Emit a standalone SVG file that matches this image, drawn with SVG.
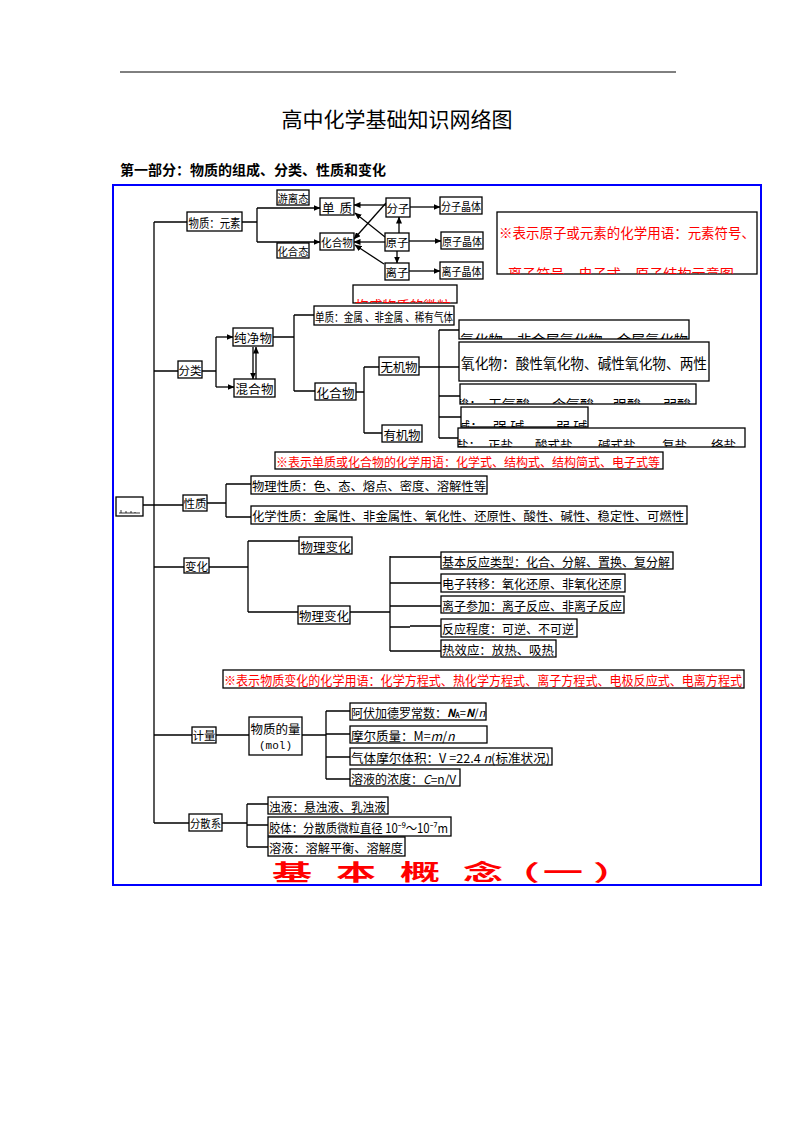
<svg xmlns="http://www.w3.org/2000/svg" width="794" height="1123" viewBox="0 0 794 1123">
<style>
.b{fill:#fff;stroke:#000;stroke-width:1.3}
.t{font-family:"Noto Sans CJK SC","Noto Sans",sans-serif;font-size:12.5px;fill:#000}
.m{text-anchor:middle;dominant-baseline:central}
.l{dominant-baseline:central}
.r{fill:#f00}
.c path{stroke:#000;stroke-width:1.3;fill:none}
.ar{marker-end:url(#ar)}
</style>
<defs>
<marker id="ar" markerWidth="7" markerHeight="6" refX="6.5" refY="3" orient="auto" markerUnits="userSpaceOnUse"><path d="M0,0 L7,3 L0,6z" fill="#000"/></marker>
<clipPath id="cwl"><rect x="353" y="285" width="104" height="18"/></clipPath>
<clipPath id="cn1"><rect x="497" y="212" width="260" height="62"/></clipPath>
<clipPath id="cA"><rect x="459" y="320" width="230" height="19"/></clipPath>
<clipPath id="cB"><rect x="459" y="342" width="250" height="39"/></clipPath>
<clipPath id="cC"><rect x="460" y="384" width="236" height="20"/></clipPath>
<clipPath id="cD"><rect x="461" y="407" width="127" height="20"/></clipPath>
<clipPath id="cE"><rect x="458" y="428" width="287" height="19"/></clipPath>
</defs>
<rect width="794" height="1123" fill="#fff"/>
<path d="M120,72 H676" stroke="#000" stroke-width="1"/>
<text class="t" x="397" y="127" text-anchor="middle" style="font-size:21px">高中化学基础知识网络图</text>
<text class="t" x="120" y="175" style="font-size:14px;font-weight:bold" textLength="266">第一部分：物质的组成、分类、性质和变化</text>
<rect x="113" y="185" width="648" height="700" fill="none" stroke="#00f" stroke-width="2"/>

<g id="connectors" class="c">
<path d="M154,222 V823"/>
<path d="M154,222 H187"/>
<path d="M242,222 H257 M257,208 V242"/>
<path class="ar" d="M257,208 H320"/>
<path class="ar" d="M257,242 H320"/>
<path class="ar" d="M386,205 H354"/>
<path class="ar" d="M399,233 V217"/>
<path class="ar" d="M397,251 V263"/>
<path class="ar" d="M385,242 H354"/>
<path class="ar" d="M385,237 L355,213"/>
<path class="ar" d="M386,203 L354,239"/>
<path class="ar" d="M384,264 L355,245"/>
<path class="ar" d="M410,207 H440"/>
<path class="ar" d="M409,241 H441"/>
<path class="ar" d="M409,271 H440"/>
<path d="M154,371 H178 M202,371 H216 M216,337 V387"/>
<path class="ar" d="M216,337 H233"/>
<path class="ar" d="M216,387 H234"/>
<path class="ar" d="M253,347 V379"/>
<path class="ar" d="M256,379 V347"/>
<path d="M273,337 H294 M294,315 V391 M294,315 H314 M294,391 H315"/>
<path d="M356,392 H364 M364,367 V433 M364,367 H379 M364,433 H382"/>
<path d="M419,367 H459 M439,330 V438 M439,330 H459 M439,396 H460 M439,417 H461 M439,438 H458"/>
<path d="M143,505 H183 M207,503 H226 M226,484 V517 M226,484 H251 M226,517 H251"/>
<path d="M154,567 H184 M209,567 H248 M248,541 V612 M248,541 H299 M248,612 H298"/>
<path d="M350,612 H390 M390,556 V651 M390,557 H441 M390,583 H441 M390,606 H441 M390,627 H410 M410,626 H441 M390,651 H441"/>
<path d="M154,735 H192 M216,735 H249 M302,735 H326 M326,711 V779 M326,711 H350 M326,734 H350 M326,757 H350 M326,779 H350"/>
<path d="M154,823 H189 M222,823 H247 M247,804 V847 M247,804 H268 M247,825 H268 M247,847 H268"/>
</g>

<g id="n-wuzhi"><rect class="b" x="187" y="212" width="55" height="19"/><text class="t m" x="214.5" y="222" style="font-size:12px" textLength="52" lengthAdjust="spacingAndGlyphs">物质：元素</text></g>
<g id="n-youli"><rect class="b" x="277" y="190" width="32" height="15"/><text class="t m" x="293" y="198" style="font-size:11px" textLength="31" lengthAdjust="spacingAndGlyphs">游离态</text></g>
<g id="n-huahetai"><rect class="b" x="277" y="243" width="32" height="15"/><text class="t m" x="293" y="251" style="font-size:11px" textLength="31" lengthAdjust="spacingAndGlyphs">化合态</text></g>
<g id="n-danzhi"><rect class="b" x="320" y="198" width="34" height="17"/><text class="t m" x="337" y="207" style="font-size:12.5px" textLength="30">单 质</text></g>
<g id="n-huahewu1"><rect class="b" x="320" y="233" width="34" height="17"/><text class="t m" x="337" y="242" style="font-size:11.5px" textLength="32" lengthAdjust="spacingAndGlyphs">化合物</text></g>
<g id="n-fenzi"><rect class="b" x="386" y="198" width="24" height="19"/><text class="t m" x="398" y="208" style="font-size:11.5px">分子</text></g>
<g id="n-yuanzi"><rect class="b" x="385" y="233" width="24" height="18"/><text class="t m" x="397" y="242" style="font-size:11.5px">原子</text></g>
<g id="n-lizi"><rect class="b" x="385" y="263" width="24" height="17"/><text class="t m" x="397" y="272" style="font-size:11.5px">离子</text></g>
<g id="n-fzjt"><rect class="b" x="440" y="197" width="42" height="17"/><text class="t m" x="461" y="206" style="font-size:11px" textLength="40" lengthAdjust="spacingAndGlyphs">分子晶体</text></g>
<g id="n-yzjt"><rect class="b" x="441" y="232" width="42" height="17"/><text class="t m" x="462" y="241" style="font-size:11px" textLength="40" lengthAdjust="spacingAndGlyphs">原子晶体</text></g>
<g id="n-lzjt"><rect class="b" x="440" y="262" width="43" height="17"/><text class="t m" x="461.5" y="271" style="font-size:11px" textLength="40" lengthAdjust="spacingAndGlyphs">离子晶体</text></g>

<g id="note1"><rect class="b" x="497" y="212" width="260" height="62"/>
<g clip-path="url(#cn1)"><text class="t r" x="499" y="238" style="font-size:13.6px" textLength="256" lengthAdjust="spacingAndGlyphs">※表示原子或元素的化学用语：元素符号、</text>
<text class="t r" x="508" y="279" style="font-size:13.5px" textLength="240" lengthAdjust="spacingAndGlyphs">离子符号、电子式、原子结构示意图，</text></g></g>
<g id="note-weili"><rect class="b" x="353" y="285" width="104" height="18"/><text class="t r" x="355" y="310" clip-path="url(#cwl)" style="font-size:13px" textLength="96" lengthAdjust="spacingAndGlyphs">构成物质的微粒</text></g>

<g id="n-fenlei"><rect class="b" x="178" y="361" width="24" height="17"/><text class="t m" x="190" y="370" style="font-size:11.5px">分类</text></g>
<g id="n-chunjing"><rect class="b" x="233" y="328" width="40" height="18"/><text class="t m" x="253" y="337" style="font-size:12.5px" textLength="38">纯净物</text></g>
<g id="n-hunhe"><rect class="b" x="234" y="379" width="41" height="18"/><text class="t m" x="254.5" y="388" style="font-size:12.5px" textLength="38">混合物</text></g>
<g id="n-danzhi2"><rect class="b" x="314" y="306" width="140" height="19"/><text class="t l" x="315" y="316.5" style="font-size:12px" textLength="138" lengthAdjust="spacingAndGlyphs">单质：金属 、非金属 、稀有气体</text></g>
<g id="n-huahewu2"><rect class="b" x="315" y="383" width="41" height="17"/><text class="t m" x="335.5" y="392" style="font-size:12.5px" textLength="38">化合物</text></g>
<g id="n-wuji"><rect class="b" x="379" y="357" width="40" height="18"/><text class="t m" x="399" y="366" style="font-size:12.5px" textLength="37">无机物</text></g>
<g id="n-youji"><rect class="b" x="382" y="425" width="40" height="17"/><text class="t m" x="402" y="434" style="font-size:12.5px" textLength="37">有机物</text></g>

<g id="n-qinghuawu"><rect class="b" x="459" y="320" width="230" height="19"/><text class="t" x="460" y="346" clip-path="url(#cA)" style="font-size:14.4px" textLength="228" lengthAdjust="spacingAndGlyphs">氢化物、非金属氢化物、金属氢化物</text></g>
<g id="n-yanghuawu"><rect class="b" x="459" y="342" width="250" height="39"/><text class="t l" x="461" y="362" clip-path="url(#cB)" style="font-size:14.5px" textLength="246" lengthAdjust="spacingAndGlyphs">氧化物：酸性氧化物、碱性氧化物、两性</text></g>
<g id="n-suan"><rect class="b" x="460" y="384" width="236" height="20"/><text class="t" y="410" clip-path="url(#cC)" style="font-size:14px"><tspan x="455">酸：</tspan><tspan x="488">无氧酸、</tspan><tspan x="552">含氧酸、</tspan><tspan x="613">强酸、</tspan><tspan x="663">弱酸</tspan></text></g>
<g id="n-jian"><rect class="b" x="461" y="407" width="127" height="20"/><text class="t" y="432" clip-path="url(#cD)" style="font-size:14px"><tspan x="456">碱：</tspan><tspan x="493">强 碱、</tspan><tspan x="556">弱 碱</tspan></text></g>
<g id="n-yan"><rect class="b" x="458" y="428" width="287" height="19"/><text class="t" y="450" clip-path="url(#cE)" style="font-size:12.5px"><tspan x="456">盐：</tspan><tspan x="488">正盐、</tspan><tspan x="535">酸式盐、</tspan><tspan x="598">碱式盐、</tspan><tspan x="662">复盐、</tspan><tspan x="711">络盐</tspan></text></g>

<g id="note2"><rect class="b" x="275" y="452" width="388" height="17"/><text class="t r l" x="276" y="461.5" style="font-size:12.5px" textLength="384" lengthAdjust="spacingAndGlyphs">※表示单质或化合物的化学用语：化学式、结构式、结构简式、电子式等</text></g>

<g id="n-small"><rect class="b" x="116" y="497" width="27" height="19"/><path d="M119,513 H140 M121,510 V513 M126,511 V513 M131,511 V513 M135,512 V513" stroke="#000" stroke-width="0.8" fill="none"/></g>
<g id="n-xingzhi"><rect class="b" x="183" y="495" width="24" height="16"/><text class="t m" x="195" y="503" style="font-size:11.5px">性质</text></g>
<g id="n-wuli"><rect class="b" x="251" y="476" width="236" height="18"/><text class="t l" x="252" y="485" style="font-size:12.5px" textLength="234" lengthAdjust="spacingAndGlyphs">物理性质：色、态、熔点、密度、溶解性等</text></g>
<g id="n-huaxue"><rect class="b" x="251" y="506" width="436" height="18"/><text class="t l" x="252" y="515" style="font-size:12.5px" textLength="432" lengthAdjust="spacingAndGlyphs">化学性质：金属性、非金属性、氧化性、还原性、酸性、碱性、稳定性、可燃性</text></g>

<g id="n-bianhua"><rect class="b" x="184" y="558" width="25" height="15"/><text class="t m" x="196.5" y="565.5" style="font-size:11.5px">变化</text></g>
<g id="n-wlbh1"><rect class="b" x="299" y="537" width="53" height="17"/><text class="t m" x="325.5" y="546" style="font-size:12.5px" textLength="50">物理变化</text></g>
<g id="n-wlbh2"><rect class="b" x="298" y="606" width="52" height="18"/><text class="t m" x="324" y="615" style="font-size:12.5px" textLength="50">物理变化</text></g>
<g id="n-jiben"><rect class="b" x="441" y="552" width="232" height="17"/><text class="t l" x="442" y="561" style="font-size:12.5px" textLength="228" lengthAdjust="spacingAndGlyphs">基本反应类型：化合、分解、置换、复分解</text></g>
<g id="n-dianzi"><rect class="b" x="441" y="574" width="184" height="18"/><text class="t l" x="442" y="583" style="font-size:12.5px" textLength="180" lengthAdjust="spacingAndGlyphs">电子转移：氧化还原、非氧化还原</text></g>
<g id="n-lizican"><rect class="b" x="441" y="596" width="183" height="17"/><text class="t l" x="442" y="605" style="font-size:12.5px" textLength="180" lengthAdjust="spacingAndGlyphs">离子参加：离子反应、非离子反应</text></g>
<g id="n-chengdu"><rect class="b" x="441" y="619" width="136" height="18"/><text class="t l" x="442" y="628" style="font-size:12.5px" textLength="132" lengthAdjust="spacingAndGlyphs">反应程度：可逆、不可逆</text></g>
<g id="n-rexiao"><rect class="b" x="441" y="640" width="115" height="17"/><text class="t l" x="442" y="649" style="font-size:12.5px" textLength="112" lengthAdjust="spacingAndGlyphs">热效应：放热、吸热</text></g>

<g id="note3"><rect class="b" x="223" y="670" width="521" height="18"/><text class="t r l" x="224" y="679" style="font-size:12.8px" textLength="518" lengthAdjust="spacingAndGlyphs">※表示物质变化的化学用语：化学方程式、热化学方程式、离子方程式、电极反应式、电离方程式</text></g>

<g id="n-jiliang"><rect class="b" x="192" y="727" width="24" height="16"/><text class="t m" x="204" y="735" style="font-size:11.5px">计量</text></g>
<g id="n-wzdl"><rect class="b" x="249" y="717" width="53" height="38"/><text class="t m" x="275.5" y="728" style="font-size:12.5px" textLength="50">物质的量</text><text class="t m" x="275.5" y="746" style="font-size:11px;font-family:'Liberation Mono',monospace">(mol)</text></g>
<g id="n-afjd"><rect class="b" x="350" y="703" width="136" height="17"/><text class="t l" x="351" y="712" style="font-size:12px">阿伏加德罗常数：<tspan font-size="11" font-style="italic" font-weight="bold">N</tspan><tspan font-size="7" dy="3" font-weight="bold">A</tspan><tspan font-size="11" dy="-3">=</tspan><tspan font-size="11" font-style="italic" font-weight="bold">N</tspan><tspan font-size="11">/</tspan><tspan font-size="11" font-style="italic">n</tspan></text></g>
<g id="n-mezl"><rect class="b" x="350" y="726" width="137" height="17"/><text class="t l" x="351" y="735" style="font-size:12.5px">摩尔质量：M=<tspan font-style="italic">m</tspan>/<tspan font-style="italic">n</tspan></text></g>
<g id="n-qtme"><rect class="b" x="350" y="748" width="202" height="17"/><text class="t l" x="351" y="757" style="font-size:12.5px" textLength="199" lengthAdjust="spacingAndGlyphs">气体摩尔体积：V =22.4 <tspan font-style="italic">n</tspan>(标准状况)</text></g>
<g id="n-ryd"><rect class="b" x="350" y="769" width="110" height="17"/><text class="t l" x="351" y="778" style="font-size:12px">溶液的浓度：<tspan font-style="italic">C</tspan>=n/V</text></g>

<g id="n-fensan"><rect class="b" x="189" y="814" width="33" height="17"/><text class="t m" x="205.5" y="823" style="font-size:11px" textLength="31" lengthAdjust="spacingAndGlyphs">分散系</text></g>
<g id="n-zhuoye"><rect class="b" x="268" y="797" width="120" height="17"/><text class="t l" x="269" y="806" style="font-size:12.5px" textLength="117" lengthAdjust="spacingAndGlyphs">浊液：悬浊液、乳浊液</text></g>
<g id="n-jiaoti"><rect class="b" x="268" y="817" width="183" height="19"/><text class="t l" x="269" y="827" style="font-size:12.5px" textLength="179" lengthAdjust="spacingAndGlyphs">胶体：分散质微粒直径 10⁻⁹～10⁻⁷m</text></g>
<g id="n-rongye"><rect class="b" x="268" y="837" width="137" height="19"/><text class="t l" x="269" y="847" style="font-size:12.5px" textLength="134" lengthAdjust="spacingAndGlyphs">溶液：溶解平衡、溶解度</text></g>

<g id="big-title" transform="translate(0,880) scale(1,0.55)"><text class="t r" x="272 336 400 463 500 543 593" y="0" style="font-size:40px;font-weight:bold">基本概念（一）</text></g>
</svg>
